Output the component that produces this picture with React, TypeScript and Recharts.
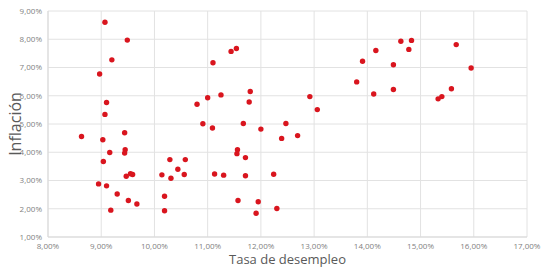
import React from "react";
import {
    ScatterChart,
    Scatter,
    XAxis,
    YAxis,
    CartesianGrid,
    Label,
} from "recharts";

// tasa de desempleo (%) y inflación (%) por observación
const desempleo = [
    9.07, 9.49, 9.2, 8.97, 9.1, 9.07, 8.63, 9.44, 9.03, 9.16, 9.45, 9.44,
    9.04, 9.55, 9.59, 9.47, 8.95, 9.1, 9.3, 9.51, 9.67, 9.18, 10.29, 10.58,
    10.44, 10.14, 10.56, 10.31, 10.19, 10.19, 10.8, 11.44, 11.54, 11.1, 11.8,
    11.25, 11.0, 11.78, 12.92, 13.06, 10.91, 11.09, 11.67, 12.0, 12.47, 12.39,
    12.69, 11.56, 11.55, 11.71, 11.13, 11.3, 11.71, 12.24, 11.57, 11.95, 12.3,
    11.91, 13.8, 13.91, 14.12, 14.16, 14.63, 14.83, 14.78, 14.49, 14.49,
    15.67, 15.95, 15.58, 15.4, 15.33,
];
const inflacion = [
    8.6, 7.97, 7.27, 6.77, 5.76, 5.34, 4.56, 4.69, 4.44, 3.99, 4.09, 3.97,
    3.67, 3.24, 3.21, 3.15, 2.88, 2.81, 2.52, 2.29, 2.17, 1.95, 3.74, 3.74,
    3.4, 3.2, 3.21, 3.08, 2.44, 1.93, 5.7, 7.57, 7.67, 7.17, 6.15, 6.03, 5.93,
    5.78, 5.97, 5.51, 5.01, 4.86, 5.02, 4.82, 5.02, 4.49, 4.59, 4.09, 3.95,
    3.81, 3.23, 3.19, 3.17, 3.22, 2.29, 2.25, 2.01, 1.84, 6.49, 7.22, 6.06,
    7.6, 7.93, 7.96, 7.64, 7.1, 6.22, 7.81, 6.98, 6.25, 5.97, 5.89,
];
const xTicks = [8, 9, 10, 11, 12, 13, 14, 15, 16, 17];
const yTicks = [1, 2, 3, 4, 5, 6, 7, 8, 9];

const data = desempleo.map((x, i) => ({ x, y: inflacion[i] }));

const pct = (v: number) => v.toFixed(2).replace(".", ",") + "%";

const font = "'Open Sans', sans-serif";
const tickStyle = { fontSize: 8, fill: "#7f7f7f", fontFamily: font };

const Dot = (props: any) => (
    <circle cx={props.cx} cy={props.cy} r={2.7} fill="#d9151e" />
);

export default function App() {
    return (
        <div style={{ position: "absolute", left: 0, top: 0, background: "#fff" }}>
            <ScatterChart
                width={546}
                height={274}
                margin={{ top: 11, right: 19, left: 0, bottom: 0 }}
            >
                <CartesianGrid stroke="#e2e2e2" />
                <XAxis
                    type="number"
                    dataKey="x"
                    domain={[8, 17]}
                    ticks={xTicks}
                    tickFormatter={pct}
                    tick={tickStyle}
                    tickLine={false}
                    tickSize={4}
                    tickMargin={2}
                    stroke="#d9d9d9"
                    height={37}
                    interval={0}
                >
                    <Label
                        value="Tasa de desempleo"
                        position="insideBottom"
                        offset={10}
                        style={{ fontSize: 13, fill: "#595959", fontFamily: font }}
                    />
                </XAxis>
                <YAxis
                    type="number"
                    dataKey="y"
                    domain={[1, 9]}
                    ticks={yTicks}
                    tickFormatter={pct}
                    tick={tickStyle}
                    tickLine={false}
                    tickSize={4}
                    tickMargin={2}
                    stroke="#d9d9d9"
                    width={48}
                    interval={0}
                >
                    <Label
                        value="Inflación"
                        angle={-90}
                        position="insideLeft"
                        offset={15}
                        style={{
                            fontSize: 16,
                            fill: "#595959",
                            fontFamily: font,
                            textAnchor: "middle",
                        }}
                    />
                </YAxis>
                <Scatter
                    data={data}
                    fill="#d9151e"
                    shape={Dot}
                    isAnimationActive={false}
                />
            </ScatterChart>
        </div>
    );
}
